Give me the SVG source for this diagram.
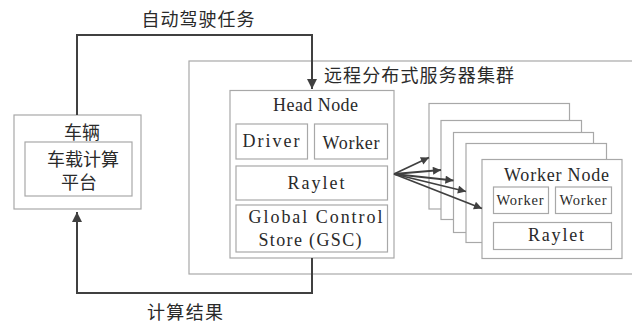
<svg xmlns="http://www.w3.org/2000/svg" width="632" height="325" viewBox="0 0 632 325">
  <style>
    .box { fill: #ffffff; stroke: #a8a8a8; stroke-width: 1.2; }
    .wire { fill: none; stroke: #404040; stroke-width: 2; }
    .fan { fill: none; stroke: #404040; stroke-width: 1.8; }
    .zh { font-family: "Noto Sans CJK SC", sans-serif; font-size: 18px; fill: #2a2a2a; }
    .en { font-family: "Liberation Serif", serif; font-size: 18px; fill: #2a2a2a; }
    .en-s { font-family: "Liberation Serif", serif; font-size: 14.5px; fill: #2a2a2a; }
  </style>
  <defs>
    <marker id="arrow" viewBox="0 0 10 10" refX="10" refY="5" markerWidth="5" markerHeight="5" orient="auto" markerUnits="strokeWidth">
      <path d="M0,0 L10,5 L0,10 Z" fill="#404040"/>
    </marker>
    <marker id="arrow-s" viewBox="0 0 10 10" refX="10" refY="5" markerWidth="5" markerHeight="4.5" orient="auto" markerUnits="strokeWidth">
      <path d="M0,0 L10,5 L0,10 Z" fill="#404040"/>
    </marker>
  </defs>
  <rect width="632" height="325" fill="#ffffff"/>

  <!-- remote cluster frame -->
  <g id="cluster">
    <rect class="box" x="189" y="61" width="460" height="213"/>
    <text class="zh" x="324" y="74" dominant-baseline="central" textLength="190" lengthAdjust="spacing">远程分布式服务器集群</text>
  </g>

  <!-- vehicle -->
  <g id="vehicle">
    <rect class="box" x="14" y="115" width="127" height="94"/>
    <text class="zh" x="82" y="130.5" text-anchor="middle" dominant-baseline="central">车辆</text>
    <rect class="box" x="25" y="142" width="107" height="54"/>
    <text class="zh" x="83" y="157.5" text-anchor="middle" dominant-baseline="central">车载计算</text>
    <text class="zh" x="79" y="181" text-anchor="middle" dominant-baseline="central">平台</text>
  </g>

  <!-- head node -->
  <g id="head-node">
    <rect class="box" x="230" y="90.5" width="164" height="167.5"/>
    <text class="en" x="315.5" y="105" text-anchor="middle" dominant-baseline="central" textLength="85" lengthAdjust="spacing">Head Node</text>
    <rect class="box" x="236" y="124" width="71.5" height="35"/>
    <text class="en" x="271" y="141" text-anchor="middle" dominant-baseline="central" textLength="57" lengthAdjust="spacing">Driver</text>
    <rect class="box" x="314.5" y="124" width="73" height="35"/>
    <text class="en" x="351" y="143" text-anchor="middle" dominant-baseline="central" textLength="57" lengthAdjust="spacing">Worker</text>
    <rect class="box" x="236" y="166" width="151.5" height="34"/>
    <text class="en" x="316" y="183" text-anchor="middle" dominant-baseline="central" textLength="57" lengthAdjust="spacing">Raylet</text>
    <rect class="box" x="236" y="205" width="151.5" height="47"/>
    <text class="en" x="315.5" y="217" text-anchor="middle" dominant-baseline="central" textLength="134" lengthAdjust="spacing">Global Control</text>
    <text class="en" x="310" y="240" text-anchor="middle" dominant-baseline="central" textLength="103" lengthAdjust="spacing">Store (GSC)</text>
  </g>

  <!-- stacked worker nodes, back to front -->
  <g id="worker-node-1"><rect class="box" x="429" y="103.5" width="140.5" height="105.5"/></g>
  <g id="worker-node-2"><rect class="box" x="441" y="120.5" width="140.5" height="99"/></g>
  <g id="worker-node-3"><rect class="box" x="453.5" y="132.5" width="140" height="100"/></g>
  <g id="worker-node-4"><rect class="box" x="466" y="143.5" width="140.5" height="99"/></g>
  <g id="worker-node-5">
    <rect class="box" x="482" y="159.5" width="140" height="99"/>
    <text class="en" x="556.5" y="175" text-anchor="middle" dominant-baseline="central" textLength="105" lengthAdjust="spacing">Worker Node</text>
    <rect class="box" x="493.5" y="187" width="55" height="26.5"/>
    <text class="en-s" x="520" y="200" text-anchor="middle" dominant-baseline="central" textLength="47" lengthAdjust="spacing">Worker</text>
    <rect class="box" x="555.5" y="187" width="56" height="26.5"/>
    <text class="en-s" x="583" y="200" text-anchor="middle" dominant-baseline="central" textLength="47" lengthAdjust="spacing">Worker</text>
    <rect class="box" x="493.5" y="222.5" width="118" height="27"/>
    <text class="en" x="556" y="235" text-anchor="middle" dominant-baseline="central" textLength="56" lengthAdjust="spacing">Raylet</text>
  </g>

  <!-- connectors -->
  <g id="connectors">
    <path class="wire" d="M77,115 V35 H312 V89" marker-end="url(#arrow)"/>
    <path class="wire" d="M312,258 V293 H77 V212" marker-end="url(#arrow)"/>
    <line class="fan" x1="394" y1="174" x2="429" y2="157.5" marker-end="url(#arrow-s)"/>
    <line class="fan" x1="394" y1="174" x2="441" y2="170" marker-end="url(#arrow-s)"/>
    <line class="fan" x1="394" y1="174" x2="453.5" y2="180.5" marker-end="url(#arrow-s)"/>
    <line class="fan" x1="394" y1="174" x2="466" y2="191.5" marker-end="url(#arrow-s)"/>
    <line class="fan" x1="394" y1="174" x2="482" y2="208.5" marker-end="url(#arrow-s)"/>
  </g>

  <!-- connector labels -->
  <text class="zh" x="198" y="18" text-anchor="middle" dominant-baseline="central" textLength="113" lengthAdjust="spacing">自动驾驶任务</text>
  <text class="zh" x="185" y="311" text-anchor="middle" dominant-baseline="central" textLength="76" lengthAdjust="spacing">计算结果</text>
</svg>
